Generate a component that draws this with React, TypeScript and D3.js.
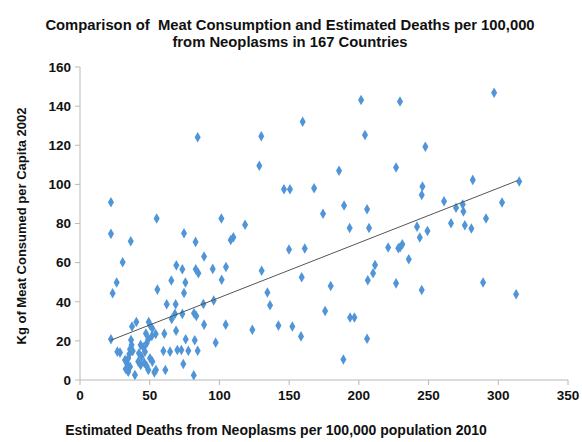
import React from "react";
import * as d3 from "d3";

const deathsX: number[] = [
  84.4, 201.6, 159.7, 130, 204.4, 128.6, 185.8, 229.5, 297, 247.7, 226.7, 281.7, 315, 146.3, 150.6, 167.9,
  189.4, 205.9, 174.3, 101.4, 118.4, 193.4, 207.3, 110, 108.1, 149.9, 161.2, 221, 104.7, 130.3, 211.6, 210.2,
  159, 206.4, 101.6, 179.8, 134.4, 136.3, 175.8, 193.7, 196.8, 104.5, 123.6, 142.3, 152.3, 158.5, 205.9, 188.9,
  245.6, 245.1, 261.1, 302.7, 269.7, 274.5, 275, 291.2, 266.1, 276, 280.7, 241.7, 249.2, 243.7, 231.2, 229.6,
  228.3, 235.8, 226.7, 289.1, 245.1, 312.8,
  22.2, 22.2, 55, 36.4, 74.6, 82.9, 89, 30.6, 69.1, 73.4, 83, 84.9, 95.2, 26.3, 65.5, 75.6, 55.5, 23.4, 74.6,
  62.2, 68.6, 88.5, 95.9, 65.8, 73.4, 68.1, 81.8, 83.4, 89, 68.9, 60.5, 75.8, 82.3, 97.3, 22.2, 40.4, 37.3,
  49.3, 50.2, 51.9, 47.3, 54.3, 26.8, 28.7, 59.8, 64.6, 69.8, 72.7, 77.7, 84.4, 74.1, 61.2, 81.6, 36.6, 37,
  35.9, 37.8, 35.4, 43.5, 45.4, 46.6, 47.8, 49, 42.3, 44.2, 34.6, 32.3, 33.7, 35.9, 32.8, 34.6, 39.4, 41.8,
  43.5, 46.1, 47.8, 49, 50.2, 51.9, 54.5, 53.3, 51.5,
];
const meatY: number[] = [
  124.1, 143.1, 132, 124.6, 125.2, 109.5, 107, 142.4, 146.8, 119.2, 108.6, 102.3, 101.5, 97.5, 97.5, 98,
  89.2, 87.3, 85, 82.5, 79.4, 77.7, 77.7, 73, 71.6, 66.7, 67.2, 67.7, 57.8, 55.9, 58.8, 54.6,
  52.5, 51, 51.2, 48.1, 44.7, 38.2, 35.3, 32, 32, 28.3, 25.7, 27.8, 27.4, 22.3, 21.1, 10.5,
  98.9, 94.6, 91.4, 90.7, 88.1, 89.7, 86.1, 82.5, 80.1, 79.1, 77.4, 78.4, 76.2, 72.8, 69.4, 67.9,
  67.3, 61.7, 49.4, 49.8, 46, 43.8,
  90.9, 74.7, 82.6, 70.9, 75, 70.6, 63.1, 60.2, 58.6, 56.6, 56.6, 54.6, 56.8, 49.8, 50.9, 49.8, 46.2, 44.3, 44.5,
  38.7, 38.7, 38.9, 40.6, 31.2, 33.8, 33.8, 34.1, 32.7, 28.3, 25.2, 23.7, 20.8, 20.3, 19.1, 20.8, 29.7, 27.3,
  29.7, 28, 26.3, 23.8, 23.5, 14.5, 14, 14.8, 14.5, 15.3, 15.3, 15, 15, 8.2, 5.1, 2.4, 20.5, 17.9,
  15.7, 14.8, 13.3, 17.9, 16.7, 14.5, 18.8, 20.8, 13.7, 11.9, 11.1, 10.2, 8.5, 6.8, 5.6, 4.2, 2.6, 9.4,
  7.7, 8.8, 7.2, 5.1, 11.1, 9.4, 5.1, 3.9, 22.5,
];
const trendX: number[] = [22, 314];
const trendY: number[] = [20.3, 102];
const xTicks: number[] = [0, 50, 100, 150, 200, 250, 300, 350];
const yTicks: number[] = [0, 20, 40, 60, 80, 100, 120, 140, 160];
const titleLines: string[] = [
  "Comparison of  Meat Consumption and Estimated Deaths per 100,000",
  "from Neoplasms in 167 Countries",
];
const xLabel = "Estimated Deaths from Neoplasms per 100,000 population 2010";
const yLabel = "Kg of Meat Consumed per Capita 2002";

export default function App() {
  const W = 582, H = 442;
  const x = d3.scaleLinear().domain([0, 350]).range([80, 568]);
  const y = d3.scaleLinear().domain([0, 160]).range([380, 67]);
  const diamond = d3.symbol().type(d3.symbolDiamond).size(32)()!;
  const axisColor = "#b8b8b8";
  const font = "'Liberation Sans', Arial, sans-serif";
  const line = d3.line<number>().x((_, i) => x(trendX[i])).y((v) => y(v));
  return (
    <svg width={W} height={H} style={{ position: "absolute", left: 0, top: 0, background: "#fff" }}
      fontFamily={font}>
      <rect width={W} height={H} fill="#fff" />
      {titleLines.map((t, i) => (
        <text key={i} x={290} y={30 + i * 17} textAnchor="middle" fontSize={14.8} fontWeight="bold" fill="#111"
          style={{ whiteSpace: "pre" }}>
          {t}
        </text>
      ))}
      {/* axes */}
      <line x1={x(0)} x2={x(0)} y1={y(160)} y2={y(0)} stroke={axisColor} strokeWidth={1} />
      <line x1={x(0)} x2={x(350)} y1={y(0)} y2={y(0)} stroke={axisColor} strokeWidth={1} />
      {yTicks.map((t) => (
        <g key={"y" + t}>
          <line x1={x(0) - 5} x2={x(0)} y1={y(t)} y2={y(t)} stroke={axisColor} />
          <text x={x(0) - 9} y={y(t)} dy="0.36em" textAnchor="end" fontSize={13.5} fontWeight="bold" fill="#111">
            {t}
          </text>
        </g>
      ))}
      {xTicks.map((t) => (
        <g key={"x" + t}>
          <line x1={x(t)} x2={x(t)} y1={y(0)} y2={y(0) + 5} stroke={axisColor} />
          <text x={x(t)} y={y(0) + 20} textAnchor="middle" fontSize={13.5} fontWeight="bold" fill="#111">
            {t}
          </text>
        </g>
      ))}
      {deathsX.map((d, i) => (
        <path key={i} d={diamond} transform={`translate(${x(d)},${y(meatY[i])})`} fill="#4f95d8" />
      ))}
      <path d={line(trendY) || ""} fill="none" stroke="#555" strokeWidth={1} />
      <text x={276} y={435} textAnchor="middle" fontSize={14} fontWeight="bold" fill="#111">
        {xLabel}
      </text>
      <text transform={`translate(26,226) rotate(-90)`} textAnchor="middle" fontSize={13} fontWeight="bold" fill="#111">
        {yLabel}
      </text>
    </svg>
  );
}
